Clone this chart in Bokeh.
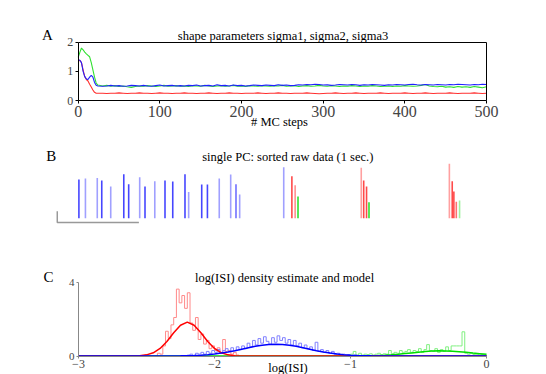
from bokeh.plotting import figure
from bokeh.models import Label, FixedTicker, Range1d, LinearAxis
from bokeh.layouts import column
from bokeh.embed import file_html
from bokeh.resources import INLINE

SERIF = "Liberation Serif"

# ---------------- Panel A data: shape parameters vs MC steps ----------------
mc_steps = [0, 2, 4, 6, 8, 10, 12, 14, 16, 18, 20, 22, 24] + list(range(30, 505, 5))
sigma_red = [1.35, 1.38, 1.30, 1.05, 0.82, 0.72, 0.67, 0.56, 0.46, 0.36, 0.28, 0.25, 0.25,
             0.25, 0.24, 0.25, 0.25, 0.26, 0.25, 0.24, 0.25, 0.25, 0.26,
             0.25, 0.25, 0.24, 0.25, 0.26, 0.25, 0.25, 0.24, 0.25, 0.25,
             0.26, 0.25, 0.25, 0.24, 0.25, 0.25, 0.26, 0.25, 0.24, 0.25,
             0.25, 0.26, 0.25, 0.25, 0.24, 0.25, 0.25, 0.25, 0.26, 0.25,
             0.24, 0.25, 0.25, 0.26, 0.25, 0.25, 0.24, 0.25, 0.25, 0.25,
             0.26, 0.25, 0.24, 0.23, 0.24, 0.25, 0.25, 0.26, 0.25, 0.24,
             0.25, 0.25, 0.26, 0.25, 0.24, 0.25, 0.25, 0.25, 0.26, 0.25,
             0.24, 0.25, 0.25, 0.25, 0.26, 0.25, 0.24, 0.25, 0.25, 0.26,
             0.25, 0.24, 0.25, 0.25, 0.25, 0.26, 0.25, 0.24, 0.25, 0.25,
             0.25, 0.26, 0.25, 0.24, 0.25]
sigma_green = [1.48, 1.65, 1.80, 1.74, 1.66, 1.60, 1.55, 1.50, 1.30, 1.05, 0.80, 0.60, 0.53,
               0.50, 0.52, 0.49, 0.51, 0.48, 0.50, 0.47, 0.45, 0.48, 0.50,
               0.49, 0.51, 0.50, 0.48, 0.50, 0.52, 0.49, 0.50, 0.51, 0.49,
               0.50, 0.48, 0.51, 0.50, 0.49, 0.52, 0.50, 0.48, 0.50, 0.51,
               0.49, 0.50, 0.52, 0.49, 0.50, 0.48, 0.51, 0.50, 0.49, 0.51,
               0.50, 0.49, 0.51, 0.50, 0.52, 0.49, 0.50, 0.51, 0.48, 0.50,
               0.51, 0.49, 0.50, 0.52, 0.50, 0.49, 0.51, 0.50, 0.48, 0.50,
               0.49, 0.51, 0.50, 0.48, 0.50, 0.49, 0.51, 0.50, 0.48, 0.49,
               0.50, 0.48, 0.50, 0.49, 0.51, 0.50, 0.49, 0.50, 0.52, 0.55,
               0.50, 0.48, 0.47, 0.49, 0.46, 0.47, 0.45, 0.48, 0.46, 0.47,
               0.45, 0.48, 0.46, 0.44, 0.47]
sigma_blue = [1.40, 1.38, 1.30, 1.00, 0.82, 0.74, 0.72, 0.80, 0.86, 0.80, 0.62, 0.52, 0.50,
              0.49, 0.50, 0.52, 0.50, 0.51, 0.49, 0.50, 0.52, 0.51, 0.50,
              0.52, 0.50, 0.49, 0.51, 0.53, 0.50, 0.51, 0.52, 0.50, 0.51,
              0.50, 0.52, 0.51, 0.53, 0.50, 0.51, 0.52, 0.50, 0.54, 0.51,
              0.52, 0.50, 0.53, 0.51, 0.52, 0.50, 0.51, 0.53, 0.52, 0.51,
              0.53, 0.52, 0.51, 0.54, 0.52, 0.53, 0.51, 0.52, 0.54, 0.53,
              0.55, 0.54, 0.56, 0.55, 0.53, 0.54, 0.52, 0.53, 0.55, 0.54,
              0.53, 0.55, 0.54, 0.52, 0.54, 0.53, 0.55, 0.54, 0.53, 0.52,
              0.54, 0.53, 0.55, 0.54, 0.53, 0.55, 0.56, 0.54, 0.53, 0.55,
              0.54, 0.53, 0.55, 0.54, 0.53, 0.55, 0.54, 0.56, 0.55, 0.54,
              0.53, 0.55, 0.54, 0.56, 0.55]
a_xticks = [0, 100, 200, 300, 400, 500]
a_yticks = [0, 1, 2]

# ---------------- Panel B data: sorted spikes (1 sec) ----------------
spike_ms = [1, 17, 46, 57, 79, 111, 123, 150, 163, 187, 212, 231, 261, 270, 302, 316, 345, 373, 386, 395,
            503, 523, 531, 538,
            693, 699, 706, 712,
            909, 916, 920, 926, 934]
spike_amp = [3.87, 3.97, 4.03, 3.77, 3.17, 4.40, 3.40, 4.10, 3.17, 3.70, 3.77, 3.67, 4.40, 2.63, 3.37, 3.37, 3.97, 4.37, 3.40, 2.37,
             5.10, 4.20, 3.30, 2.17,
             5.04, 3.77, 3.17, 1.60,
             5.44, 3.70, 2.67, 1.64, 1.77]
spike_col = ["#4646ff", "#a0a0ff", "#a0a0ff", "#4646ff", "#a0a0ff", "#4646ff", "#4646ff", "#a0a0ff", "#4646ff", "#a0a0ff",
             "#4646ff", "#4646ff", "#4646ff", "#a0a0ff", "#4646ff", "#4646ff", "#a0a0ff", "#a0a0ff", "#7070ff", "#a0a0ff",
             "#a0a0ff", "#ff4a4a", "#ff9090", "#30e030",
             "#ffa0a0", "#ff4a4a", "#ff4a4a", "#30e030",
             "#ffa0a0", "#ff4a4a", "#ff4a4a", "#ff7070", "#a0f0a0"]
scale_ms = 200
scale_amp = 1.13

# ---------------- Panel C data: log(ISI) histograms and model ----------------
bin_w = 0.02
red_hist_start = -2.44
red_hist = [0.0, 0.15, 0.1, 0.55, 1.35, 0.95, 1.7, 2.1, 3.65, 2.9, 3.3, 2.6, 3.45, 1.8, 1.4, 2.1,
            0.9, 1.2, 0.65, 0.85, 0.4, 0.55, 0.3, 0.45, 0.2, 0.9, 0.25, 0.3, 0.1, 0.2, 0.05]
blue_hist_start = -2.20
blue_hist = [0.05, 0.1, 0.0, 0.15, 0.1, 0.2, 0.1, 0.25, 0.15, 0.3, 0.2, 0.35, 0.15, 0.3, 0.4, 0.25,
             0.45, 0.3, 0.5, 0.35, 0.55, 0.4, 0.7, 0.5, 0.85, 0.6, 0.95, 0.7, 1.05, 0.8, 0.65, 1.0,
             0.75, 1.1, 0.85, 1.0, 0.7, 0.9, 0.6, 0.85, 0.55, 0.7, 0.45, 0.6, 0.4, 0.5, 0.3, 0.75,
             0.25, 0.35, 0.2, 0.3, 0.15, 0.25, 0.1, 0.15, 0.05, 0.1, 0.05, 0.08, 0.02, 0.05, 0.0,
             0.03, 0.0]
green_hist_start = -1.00
green_hist = [0.1, 0.25, 0.05, 0.15, 0.05, 0.1, 0.08, 0.12, 0.05, 0.1, 0.15, 0.08, 0.12, 0.1, 0.3,
              0.12, 0.2, 0.15, 0.3, 0.2, 0.25, 0.35, 0.2, 0.3, 0.25, 0.4, 0.2, 0.35, 0.62, 0.3,
              0.25, 0.4, 0.2, 0.35, 0.25, 0.5, 0.3, 0.55, 0.55, 0.55, 0.55, 1.32, 0.15, 0.1, 0.15,
              0.08, 0.1, 0.05, 0.08, 0.05]
model_x = [round(-3 + 0.05 * i, 2) for i in range(61)]
red_model = [0] * 8 + [0.004, 0.018, 0.062, 0.175, 0.41, 0.79, 1.27, 1.68, 1.85, 1.68, 1.27, 0.79,
                       0.41, 0.175, 0.062, 0.018, 0.004] + [0] * 36
blue_model = [0] * 14 + [0.005, 0.009, 0.016, 0.028, 0.046, 0.073, 0.11, 0.16, 0.22, 0.29, 0.37, 0.45,
                         0.53, 0.59, 0.63, 0.64, 0.63, 0.59, 0.53, 0.45, 0.37, 0.29, 0.22, 0.16,
                         0.11, 0.073, 0.046, 0.028, 0.016, 0.009, 0.005] + [0] * 16
green_model = [0] * 38 + [0.001, 0.002, 0.003, 0.005, 0.01, 0.017, 0.028, 0.045, 0.068, 0.097, 0.13,
                          0.17, 0.21, 0.24, 0.27, 0.28, 0.277, 0.26, 0.235, 0.20, 0.16, 0.125, 0.09]
c_xticks = [-3, -2, -1, 0]
c_xtick_labels = ["\u22123", "\u22122", "\u22121", "0"]
c_yticks = [0, 4]

W = 546


def make_fig(h, xr, yr):
    p = figure(width=W, height=h, output_backend="svg", toolbar_location=None,
               x_range=Range1d(*xr), y_range=Range1d(*yr),
               x_axis_type=None, y_axis_type=None,
               min_border_left=0, min_border_right=0, min_border_top=0, min_border_bottom=0)
    p.outline_line_color = None
    p.background_fill_color = "white"
    p.border_fill_color = "white"
    for g in p.grid:
        g.visible = False
    return p


def label(p, x, y, text, size):
    p.add_layout(Label(x=x, y=y, text=text, text_align="center", text_baseline="middle",
                       text_font=SERIF, text_font_size=size, text_color="black"))


def add_axis(p, side, ticks, loc, bounds, size="12px", color="black", tick_out=3, standoff=2):
    ax = LinearAxis(ticker=FixedTicker(ticks=ticks), fixed_location=loc, bounds=bounds)
    ax.major_label_text_font = SERIF
    ax.major_label_text_font_size = size
    ax.major_tick_out = tick_out
    ax.major_tick_in = 0
    ax.minor_tick_line_color = None
    ax.axis_line_color = color
    ax.major_tick_line_color = color
    ax.major_label_standoff = standoff
    p.add_layout(ax, side)
    return ax


# ---------------- Panel A (page y 0..135) ----------------
ax_px = 408.3 / 500          # px per MC step
ay_px = 58.3 / 2             # px per unit sigma
pA = make_fig(135, (-77.7 / ax_px, 500 + 60 / ax_px), (-35 / ay_px, 2 + 41.7 / ay_px))
add_axis(pA, "below", a_xticks, 0, (0, 500), size="16px")
add_axis(pA, "left", a_yticks, 0, (0, 2), size="12px")
add_axis(pA, "above", [], 2, (0, 500))
add_axis(pA, "right", [], 500, (0, 2))
pA.line(mc_steps, sigma_red, line_color="#ff3030", line_width=1.1)
pA.line(mc_steps, sigma_green, line_color="#30e030", line_width=1.1)
pA.line(mc_steps, sigma_blue, line_color="#2020ff", line_width=1.1)
label(pA, 250.8, 2.20, "shape parameters sigma1, sigma2, sigma3", "12.5px")
label(pA, -37.6, 2.23, "A", "15px")
label(pA, 246.5, -0.75, "# MC steps", "12.5px")

# ---------------- Panel B (page y 135..255) ----------------
ms_per_px = 1000 / 408
pB = make_fig(120, (-78 * ms_per_px, 1000 + 60 * ms_per_px), (-3.73, 8.27))
pB.segment(x0=spike_ms, y0=[0] * len(spike_ms), x1=spike_ms, y1=spike_amp,
           line_color=spike_col, line_width=1.6)
bar_x0, bar_y0 = -52, -0.43
pB.line([bar_x0, bar_x0, bar_x0 + scale_ms], [bar_y0 + scale_amp, bar_y0, bar_y0],
        line_color="#999999", line_width=1.5)
label(pB, 513, 6.17, "single PC: sorted raw data (1 sec.)", "12.5px")
label(pB, -67, 6.22, "B", "15px")

# ---------------- Panel C (page y 255..374) ----------------
cx_px = 136.0
cy_px = (355 - 281.7) / 4
pC = make_fig(119, (-3 - 78 / cx_px, 60 / cx_px), (-18.5 / cy_px, 4 + 27.2 / cy_px))
cxa = add_axis(pC, "below", c_xticks, 0, (-3, 0), size="12px", color="#888888", tick_out=2, standoff=2)
cxa.major_label_overrides = dict(zip(c_xticks, c_xtick_labels))
add_axis(pC, "left", c_yticks, -3, (0, 4), size="11px", color="#888888", tick_out=2, standoff=2)


def hist_step(p, start, vals, color):
    edges = [start + bin_w * i for i in range(len(vals) + 1)]
    xs = [edges[0]] + edges
    ys = [0] + list(vals) + [0]
    p.step(xs, ys, mode="after", line_color=color, line_width=1)


hist_step(pC, red_hist_start, red_hist, "#ff8a8a")
hist_step(pC, blue_hist_start, blue_hist, "#8080ff")
hist_step(pC, green_hist_start, green_hist, "#80f080")
pC.line(model_x, green_model, line_color="#00dd00", line_width=1.5)
pC.line(model_x, red_model, line_color="#ff0000", line_width=1.5)
pC.line(model_x, blue_model, line_color="#0000ff", line_width=1.5)
label(pC, -1.485, 4.28, "log(ISI) density estimate and model", "12.5px")
label(pC, -3.22, 4.31, "C", "15px")
label(pC, -1.46, -0.655, "log(ISI)", "12.5px")

layout = column(pA, pB, pC, spacing=0)
open("out.html", "w").write(file_html(layout, INLINE))
